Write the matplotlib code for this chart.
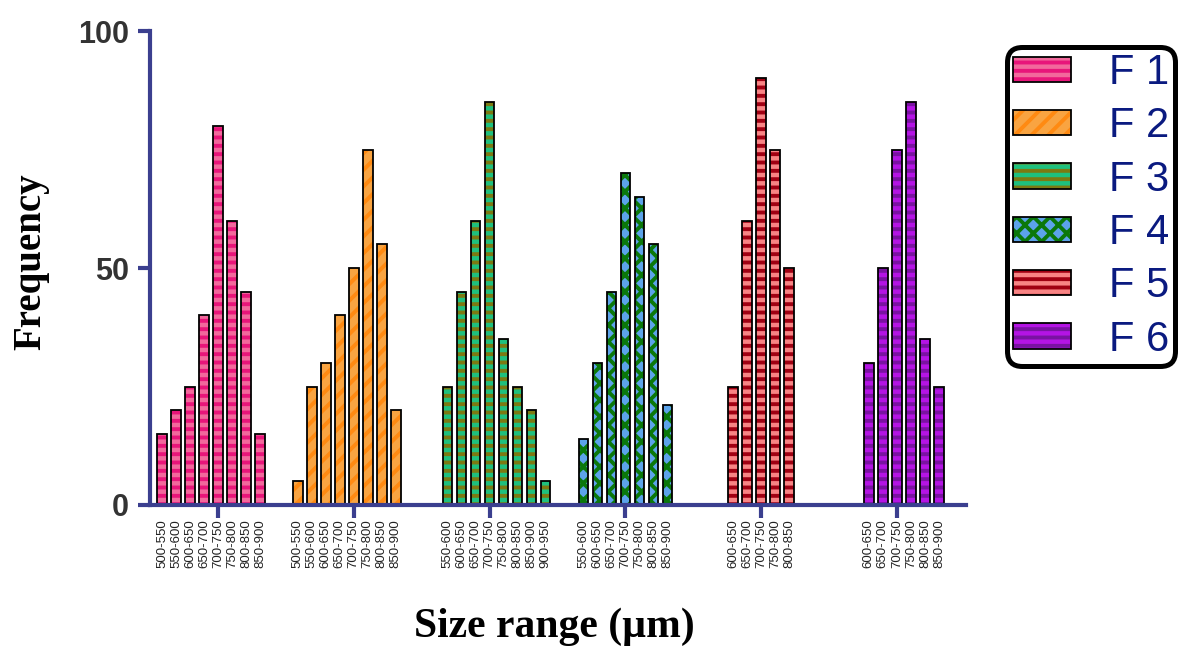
import matplotlib.pyplot as plt
from matplotlib.patches import Patch
from matplotlib.legend_handler import HandlerTuple

# size classes shared by all formulations; the 700-750 class sits on the group tick
size_classes = ["500-550", "550-600", "600-650", "650-700", "700-750",
                "750-800", "800-850", "850-900", "900-950"]
center_class = "700-750"

formulations = ["F 1", "F 2", "F 3", "F 4", "F 5", "F 6"]

f1_sizes = ["500-550", "550-600", "600-650", "650-700", "700-750", "750-800", "800-850", "850-900"]
f1_freq = [15, 20, 25, 40, 80, 60, 45, 15]
f2_sizes = ["500-550", "550-600", "600-650", "650-700", "700-750", "750-800", "800-850", "850-900"]
f2_freq = [5, 25, 30, 40, 50, 75, 55, 20]
f3_sizes = ["550-600", "600-650", "650-700", "700-750", "750-800", "800-850", "850-900", "900-950"]
f3_freq = [25, 45, 60, 85, 35, 25, 20, 5]
f4_sizes = ["550-600", "600-650", "650-700", "700-750", "750-800", "800-850", "850-900"]
f4_freq = [14, 30, 45, 70, 65, 55, 21]
f5_sizes = ["600-650", "650-700", "700-750", "750-800", "800-850"]
f5_freq = [25, 60, 90, 75, 50]
f6_sizes = ["600-650", "650-700", "700-750", "750-800", "800-850", "850-900"]
f6_freq = [30, 50, 75, 85, 35, 25]

all_sizes = [f1_sizes, f2_sizes, f3_sizes, f4_sizes, f5_sizes, f6_sizes]
all_freq = [f1_freq, f2_freq, f3_freq, f4_freq, f5_freq, f6_freq]

# fill colour, hatch colour, hatch pattern for each formulation
face_colors = ["#F2689C", "#F9A441", "#1EC07E", "#5CA3EA", "#F88484", "#B414E4"]
hatch_colors = ["#E8157A", "#FF8A12", "#7C7A12", "#0B780B", "#A00012", "#7A12A2"]
hatches = ["--", "//", "--", "xx", "--", "--"]

axis_color = "#3B3F8F"
group_gap = 9.69   # distance between group centres, in bar slots
bar_w = 0.68

plt.rcParams["hatch.linewidth"] = 2.8
plt.rcParams["font.family"] = ["Liberation Sans", "DejaVu Sans"]

fig = plt.figure(figsize=(11.78, 6.47), dpi=100)
ax = fig.add_axes([0.1273, 0.2195, 0.6927, 0.7325])

minor_pos, minor_lab = [], []
for g, (sizes, freq) in enumerate(zip(all_sizes, all_freq)):
    xs = [g * group_gap + size_classes.index(s) - size_classes.index(center_class) for s in sizes]
    ax.bar(xs, freq, width=bar_w, color=face_colors[g], edgecolor=hatch_colors[g],
           hatch=hatches[g], linewidth=0, zorder=2)
    ax.bar(xs, freq, width=bar_w, fill=False, edgecolor="black", linewidth=1.3, zorder=3)
    minor_pos += xs
    minor_lab += sizes

ax.set_xlim(-4.857, 5 * group_gap + 4.93)
ax.set_ylim(0, 100)

for side in ["top", "right"]:
    ax.spines[side].set_visible(False)
for side in ["left", "bottom"]:
    ax.spines[side].set_color(axis_color)
    ax.spines[side].set_linewidth(3)
    ax.spines[side].set_zorder(4)

ax.set_yticks([0, 50, 100])
ax.set_yticklabels(["0", "50", "100"], fontsize=22, fontweight="bold", color="#333333")
ax.tick_params(axis="y", direction="out", length=9, width=3, color=axis_color, pad=6)

ax.xaxis.remove_overlapping_locs = False
ax.set_xticks([g * group_gap for g in range(len(formulations))])
ax.set_xticklabels([])
ax.tick_params(axis="x", which="major", direction="out", length=9, width=3, color=axis_color)
ax.set_xticks(minor_pos, minor=True)
ax.set_xticklabels(minor_lab, minor=True, rotation=90, fontsize=9.5, color="#222222")
ax.tick_params(axis="x", which="minor", length=0, pad=10)

fig.text(0.026, 1 - 262 / 647, "Frequency", rotation=90, ha="center", va="center",
         fontsize=28, fontweight="bold", family=["Liberation Serif", "DejaVu Serif"])
fig.text(0.471, 1 - 627 / 647, "Size range (\u00b5m)", ha="center", va="center",
         fontsize=30, fontweight="bold", family=["Liberation Serif", "DejaVu Serif"])

handles = []
for g in range(len(formulations)):
    fill = Patch(facecolor=face_colors[g], edgecolor=hatch_colors[g], hatch=hatches[g], linewidth=0)
    outline = Patch(fill=False, edgecolor="black", linewidth=1.3)
    handles.append((fill, outline))

leg = fig.legend(handles, formulations, handler_map={tuple: HandlerTuple(ndivide=1, pad=0)},
                 loc="upper left", bbox_to_anchor=(0.855, 0.927), fontsize=30,
                 handlelength=1.4, handleheight=0.56, handletextpad=0.9,
                 labelspacing=0.32, borderpad=0.14, borderaxespad=0,
                 frameon=True, fancybox=True, framealpha=1)
for t in leg.get_texts():
    t.set_color("#0A1A80")
frame = leg.get_frame()
frame.set_edgecolor("black")
frame.set_linewidth(3.6)
frame.set_boxstyle("round,pad=0.0,rounding_size=0.35")

fig.savefig("out.png", dpi=100)
